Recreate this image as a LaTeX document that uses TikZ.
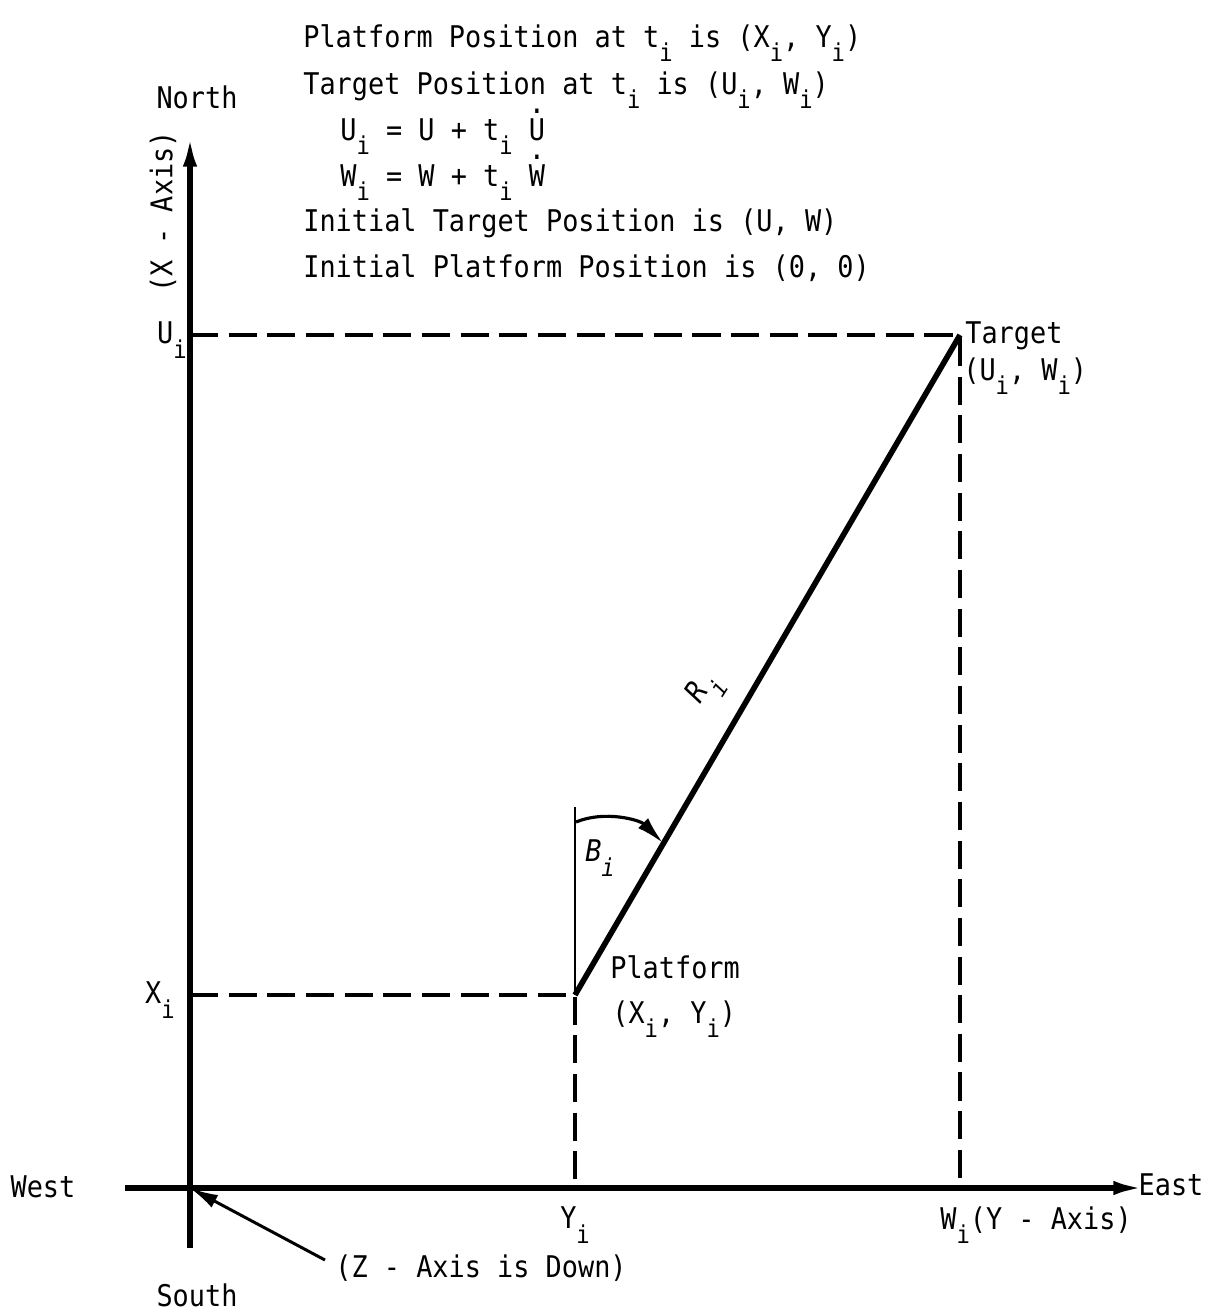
\documentclass[tikz,border=0pt]{standalone}
\usepackage{fontspec}
\usetikzlibrary{arrows.meta,positioning}
\newfontfamily\tw{DejaVu Sans Mono}[FakeStretch=0.9]
\newcommand\lo[1]{\raisebox{-0.9ex}{\fontsize{14}{14}\selectfont #1}}
\newcommand\dotover[1]{\ooalign{#1\cr\hidewidth\raisebox{0.88em}{.}\hidewidth\cr}}
\tikzset{
  axis/.style={line width=3.2pt,-{Latex[length=18pt,width=8pt]}},
  guide/.style={line width=2.4pt,dash pattern=on 16pt off 6pt},
  lbl/.style={font=\tw\fontsize{17}{20}\selectfont,inner sep=0pt},
}

\begin{document}
\begin{tikzpicture}[x=0.02cm,y=-0.02cm,>=Latex]
  \useasboundingbox (0,0) rectangle (1204,1312);
  % points
  \coordinate (O) at (190,1188);
  \coordinate (ntop) at (190,135);
  \coordinate (sbot) at (190,1248);
  \coordinate (wend) at (125,1188);
  \coordinate (etip) at (1145,1188);
  \coordinate (tgt) at (960,335);
  \coordinate (plt) at (575,995);
  \coordinate (ui) at (190,335);
  \coordinate (xi) at (190,995);
  \coordinate (yi) at (575,1188);
  \coordinate (wi) at (960,1188);
  \coordinate (btop) at (575,807);
  \coordinate (arcbeg) at (576,822);
  \coordinate (arcend) at (663,843);
  \coordinate (zfrom) at (325,1260);
  % axes and guides
  \draw[axis] (sbot) -- (ntop);
  \draw[axis] (wend) -- (etip);
  \draw[guide] (ui) -- (tgt) -- (wi);
  \draw[guide] (xi) -- (plt) -- (yi);
  \draw[line width=3.2pt] (plt) -- (tgt);
  \draw[line width=1.5pt] (plt) -- (btop);
  \draw[line width=1.8pt,-{Latex[length=16pt,width=8pt]}] (arcbeg) .. controls (605,810) and (640,820) .. (arcend);
  \draw[line width=1.7pt,-{Latex[length=16pt,width=8pt]}] (zfrom) -- (O);
  % heading
  \node[lbl,anchor=base west] (l1) at (303,47) {Platform Position at t\lo{i} is (X\lo{i}, Y\lo{i})};
  \node[lbl,anchor=base west] (l2) at (303,94) {Target Position at t\lo{i} is (U\lo{i}, W\lo{i})};
  \node[lbl,anchor=base west] (l3) at (340,140) {U\lo{i} = U + t\lo{i} \dotover{U}};
  \node[lbl,anchor=base west] (l4) at (340,186) {W\lo{i} = W + t\lo{i} \dotover{W}};
  \node[lbl,anchor=base west] (l5) at (303,231) {Initial Target Position is (U, W)};
  \node[lbl,anchor=base west] (l6) at (303,277) {Initial Platform Position is (0, 0)};
  % axis labels
  \node[lbl] (north) at (197,97) {North};
  \node[lbl,rotate=90] (xaxis) at (163,212) {(X - Axis)};
  \node[lbl] (south) at (197,1295) {South};
  \node[lbl] (west) at (43,1187) {West};
  \node[lbl] (east) at (1171,1185) {East};
  \node[lbl] (uilbl) at (172,340) {U\lo{i}};
  \node[lbl] (xilbl) at (160,1000) {X\lo{i}};
  \node[lbl] (yilbl) at (575,1225) {Y\lo{i}};
  \node[lbl,anchor=west] (wilbl) at (940,1225) {W\lo{i}(Y - Axis)};
  \node[lbl,anchor=west] (zlbl) at (335,1268) {(Z - Axis is Down)};
  % point labels
  \node[lbl,anchor=base west] (tname) at (965,343) {Target};
  \node[lbl,anchor=base west] (tpos) at (963,380) {(U\lo{i}, W\lo{i})};
  \node[lbl,anchor=base west] (pname) at (610,978) {Platform};
  \node[lbl,anchor=base west] (ppos) at (612,1023) {(X\lo{i}, Y\lo{i})};
  \node[lbl,font=\tw\itshape\fontsize{17}{20}\selectfont,rotate=57] (rlbl) at (706,690) {R\lo{i}};
  \node[lbl,font=\tw\itshape\fontsize{17}{20}\selectfont] (blbl) at (600,858) {B\lo{i}};
\end{tikzpicture}
\end{document}
